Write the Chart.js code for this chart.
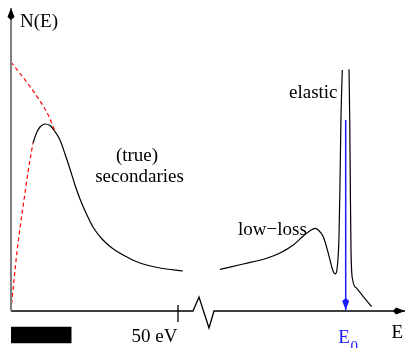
<!DOCTYPE html>
<html>
<head>
<meta charset="utf-8">
<script src="https://cdn.jsdelivr.net/npm/chart.js@4/dist/chart.umd.min.js"></script>
<style>
    body { margin: 0; background: #fff; overflow: hidden; }
</style>
</head>
<body>
<canvas id="chart" width="407" height="348"></canvas>
<script>
// schematic N(E) spectrum, arbitrary units (origin where the axes cross)
const trueSecondaries = [
    {x: 22, y: 168}, {x: 25.5, y: 178}, {x: 29, y: 184}, {x: 34, y: 187}, {x: 39, y: 185.5},
    {x: 44, y: 179.3}, {x: 49, y: 171}, {x: 54, y: 157}, {x: 59, y: 142}, {x: 64, y: 126},
    {x: 69, y: 112}, {x: 75, y: 98}, {x: 82, y: 84}, {x: 91, y: 72}, {x: 101, y: 63},
    {x: 114, y: 55}, {x: 129, y: 48}, {x: 149, y: 43}, {x: 172, y: 40}
];
const onsetDashed = [
    {x: 0, y: 0}, {x: 1, y: 11}, {x: 3, y: 31}, {x: 6, y: 59}, {x: 9, y: 83}, {x: 13, y: 111}, {x: 17, y: 139}, {x: 22, y: 168}
];
const unbarredDashed = [
    {x: 0, y: 249}, {x: 9, y: 237.5}, {x: 19, y: 224.5}, {x: 29, y: 210}, {x: 37, y: 196.5}, {x: 44, y: 180}
];
const lowLoss = [
    {x: 209, y: 41.7}, {x: 232.3, y: 47}, {x: 255.7, y: 52.7}, {x: 269, y: 58}, {x: 282.3, y: 66},
    {x: 292.3, y: 75}, {x: 299, y: 80.3}, {x: 304, y: 82.7}, {x: 307.3, y: 81}, {x: 312.3, y: 74.3},
    {x: 317.3, y: 57.7}, {x: 321.7, y: 41}, {x: 324, y: 37}, {x: 326.3, y: 44.3}, {x: 328, y: 74.3},
    {x: 329, y: 128}, {x: 330, y: 194.3}, {x: 331.3, y: 241}
];
const elasticTail = [
    {x: 338, y: 241.7}, {x: 338.7, y: 194.3}, {x: 339.3, y: 128}, {x: 340, y: 61},
    {x: 341.7, y: 31}, {x: 345.7, y: 22.7}, {x: 352.3, y: 14.3}, {x: 360.7, y: 4.3}
];
const yAxis = [{x: 0, y: 0}, {x: 0, y: 303}];
const xAxisLow = [{x: 0, y: 0}, {x: 182, y: 0}, {x: 188, y: 14}, {x: 198, y: -17}, {x: 203, y: 0}, {x: 394, y: 0}];
const tick50 = [{x: 167, y: 6}, {x: 167, y: -11}];
const e0Arrow = [{x: 334.7, y: 191}, {x: 334.7, y: 1}];
const scaleBar = [{x: 0, y: -15.7}, {x: 60.7, y: -15.7}];

const labels = [
    {text: 'N(E)', x: 9, y: 284, align: 'left', color: '#000'},
    {text: '(true)', x: 126, y: 150, align: 'center', color: '#000'},
    {text: 'secondaries', x: 128.5, y: 129, align: 'center', color: '#000'},
    {text: 'elastic', x: 278, y: 213, align: 'left', color: '#000'},
    {text: 'low\u2212loss', x: 227, y: 76, align: 'left', color: '#000'},
    {text: '50 eV', x: 120.5, y: -31, align: 'left', color: '#000'},
    {text: 'E', x: 380.5, y: -26.7, align: 'left', color: '#000'}
];

function line(data, color, width, smooth, dash) {
    return {
        data: data,
        borderColor: color,
        borderWidth: width,
        borderDash: dash || [],
        pointRadius: 0,
        fill: false,
        tension: 0,
        cubicInterpolationMode: smooth ? 'monotone' : 'default'
    };
}

function arrowHead(ctx, x, y, angle, color) {
    ctx.save();
    ctx.translate(x, y);
    ctx.rotate(angle);
    ctx.beginPath();
    ctx.moveTo(0, 0);
    ctx.lineTo(-9, -3.5);
    ctx.lineTo(-12, 0);
    ctx.lineTo(-9, 3.5);
    ctx.closePath();
    ctx.fillStyle = color;
    ctx.fill();
    ctx.restore();
}

const decorations = {
    id: 'decorations',
    afterDatasetsDraw(chart) {
        const ctx = chart.ctx;
        const xs = chart.scales.x;
        const ys = chart.scales.y;
        const px = (p) => [xs.getPixelForValue(p.x), ys.getPixelForValue(p.y)];
        // arrow tips
        let t = px(yAxis[1]);
        arrowHead(ctx, t[0], t[1], -Math.PI / 2, '#000');
        t = px(xAxisLow[xAxisLow.length - 1]);
        arrowHead(ctx, t[0], t[1], 0, '#000');
        t = px(e0Arrow[1]);
        arrowHead(ctx, t[0], t[1], Math.PI / 2, '#1a1aff');

        ctx.save();
        ctx.font = '19px "Liberation Serif", "DejaVu Serif", serif';
        ctx.textBaseline = 'alphabetic';
        labels.forEach(l => {
            ctx.fillStyle = l.color;
            ctx.textAlign = l.align;
            ctx.fillText(l.text, xs.getPixelForValue(l.x), ys.getPixelForValue(l.y));
        });
        // E0 with subscript
        ctx.fillStyle = '#1a1aff';
        ctx.textAlign = 'left';
        let ex = xs.getPixelForValue(327.3);
        let ey = ys.getPixelForValue(-31.7);
        ctx.fillText('E', ex, ey);
        ctx.font = '15px "Liberation Serif", "DejaVu Serif", serif';
        ctx.fillText('0', ex + ctx.measureText('E').width + 3, ey + 8.5);
        ctx.restore();
    }
};

new Chart(document.getElementById('chart'), {
    type: 'line',
    data: {
        datasets: [
            line(yAxis, '#808080', 2, false),
            line(xAxisLow, '#000', 1.3, false),
            line(tick50, '#000', 1.3, false),
            line(onsetDashed, '#ff0000', 1.2, true, [4, 3]),
            line(unbarredDashed, '#ff0000', 1.2, true, [4, 3]),
            line(trueSecondaries, '#000', 1.2, true),
            line(lowLoss, '#000', 1.2, true),
            line(elasticTail, '#000', 1.2, true),
            line(e0Arrow, '#1a1aff', 1.5, false),
            {
                data: scaleBar,
                borderWidth: 0,
                pointRadius: 0,
                backgroundColor: '#000',
                fill: {value: -32.3}
            }
        ]
    },
    options: {
        responsive: false,
        devicePixelRatio: 1,
        animation: false,
        layout: {padding: 0},
        scales: {
            x: {type: 'linear', min: -11, max: 396, display: false},
            y: {type: 'linear', min: -37, max: 311, display: false}
        },
        plugins: {
            legend: {display: false},
            tooltip: {enabled: false}
        }
    },
    plugins: [decorations]
});
</script>
</body>
</html>
